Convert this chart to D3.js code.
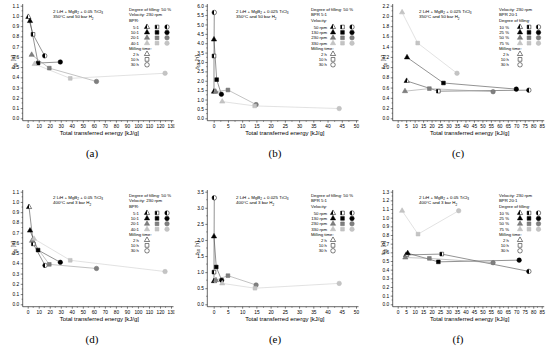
<!DOCTYPE html>
<meta charset="utf-8">
<style>
  body { margin: 0; background: #fff; }
  svg { display: block; font-family: "Liberation Sans", Arial, sans-serif; }
</style>
<svg width="550" height="356"></svg>
<script src="https://d3js.org/d3.v7.min.js"></script>
<script>

// Legend row labels
var bprLabels = ["5:1", "10:1", "20:1", "40:1"],
    velocityLabels = ["50 rpm", "130 rpm", "230 rpm", "330 rpm"],
    fillingLabels = ["10 %", "25 %", "50 %", "75 %"],
    millingLabels = ["2 h", "10 h", "30 h"];

// Every row is one series; columns are milling time 2 h, 10 h, 30 h
// (a) 350°C / 50 bar, 0.05 TiCl3, series = BPR
var aEnergy = [[0.6, 4.8, 15.4], [2.1, 9.4, 29.6], [3.6, 19.6, 62.4], [6.3, 38.6, 124.6]],
    aTime   = [[0.99, 0.82, 0.61], [0.95, 0.54, 0.55], [0.62, 0.49, 0.36], [0.53, 0.39, 0.44]];
// (b) 350°C / 50 bar, 0.025 TiCl3, series = velocity
var bEnergy = [[0.1, 0.1, 0.2], [0.1, 1.05, 2.7], [0.7, 5.0, 14.9], [3.0, 14.4, 44.1]],
    bTime   = [[1.42, 3.32, 5.64], [4.2, 2.06, 1.28], [1.42, 1.51, 0.73], [0.89, 0.66, 0.52]];
// (c) 350°C / 50 bar, 0.025 TiCl3, series = degree of filling
var cEnergy = [[5.3, 24, 77.4], [5.5, 27, 70], [4.3, 18.7, 56.3], [2.6, 11.8, 35]],
    cTime   = [[0.73, 0.53, 0.55], [1.19, 0.69, 0.57], [0.53, 0.58, 0.52], [2.07, 1.47, 0.88]];
// (d) 400°C / 3 bar, 0.05 TiCl3, series = BPR
var dEnergy = [[1.2, 5.1, 15.7], [2.1, 9.4, 29.6], [3.9, 19.6, 62.4], [5.7, 38.6, 124.6]],
    dTime   = [[0.95, 0.59, 0.38], [0.72, 0.53, 0.41], [0.62, 0.39, 0.35], [0.64, 0.43, 0.32]];
// (e) 400°C / 3 bar, 0.025 TiCl3, series = velocity
var eEnergy = [[0.1, 0.1, 0.2], [0.1, 0.9, 2.8], [0.8, 5.0, 14.9], [3.0, 14.5, 44.1]],
    eTime   = [[0.72, 1.0, 3.31], [2.11, 1.16, 0.75], [0.75, 0.89, 0.60], [0.65, 0.50, 0.65]];
// (f) 400°C / 3 bar, 0.05 TiCl3, series = degree of filling
var fEnergy = [[5, 26, 77.4], [5.9, 24, 71.7], [4.5, 18.7, 56.3], [2.6, 12, 36]],
    fTime   = [[0.57, 0.58, 0.38], [0.59, 0.49, 0.51], [0.54, 0.53, 0.48], [1.08, 0.81, 1.08]];

// Axis tick ranges: [max, step]
var xTickSpec = [[130, 10], [50, 5], [85, 5], [130, 10], [50, 5], [85, 5]],
    yTickSpec = [[1.1, 0.1], [6, 0.5], [2.2, 0.2], [1.1, 0.1], [3.5, 0.5], [1.3, 0.1]];

var captions = ["(a)", "(b)", "(c)", "(d)", "(e)", "(f)"],
    tiAmount = ["0.05", "0.025", "0.025", "0.05", "0.025", "0.05"],
    conditions = [["350°C and 50 bar H", "2"], ["400°C and 3 bar H", "2"]],
    legendHeads = [
      ["Degree of filling: 50 %", "Velocity: 230 rpm", "BPR:"],
      ["Degree of filling: 50 %", "BPR 5:1", "Velocity:"],
      ["Velocity: 230 rpm", "BPR 20:1", "Degree of filling:"]
    ],
    legendRows = [bprLabels, velocityLabels, fillingLabels];

var energies = [aEnergy, bEnergy, cEnergy, dEnergy, eEnergy, fEnergy],
    times = [aTime, bTime, cTime, dTime, eTime, fTime];

// Layout of the three columns (pixels, relative to each panel)
var colX = [0, 183, 366],
    rowY = [0, 186],
    zeroX = [27.7, 30.7, 31.7],
    endX = [171, 173, 175.7],
    axisX = [22.7, 24.3, 26.7],
    clipW = [174.5, 180, 184],
    legX = [129, 128, 133],
    legLabelRight = [139, 144, 143],
    legMarkX = [[147, 157, 167], [150, 159.5, 169], [154, 163, 172.5]];

var fills = ["url(#half)", "#000", "#7f7f7f", "#c4c4c4"],
    strokes = ["#000", "#000", "#6a6a6a", "#b8b8b8"],
    lineColors = ["#4a4a4a", "#4a4a4a", "#9a9a9a", "#cfcfcf"],
    shapes = [d3.symbolTriangle, d3.symbolSquare, d3.symbolCircle],
    shapeSize = [12, 14, 16];

var svg = d3.select("svg");

var defs = svg.append("defs");
var grad = defs.append("linearGradient").attr("id", "half");
grad.append("stop").attr("offset", 0.5).attr("stop-color", "#000");
grad.append("stop").attr("offset", 0.5).attr("stop-color", "#fff");

// Text with subscript pieces: parts = [[text, isSub], ...]
function richText(sel, parts, size) {
  parts.forEach(function(p, i) {
    var t = sel.append("tspan").text(p[0]);
    if (p[1]) t.attr("font-size", size * 0.7).attr("dy", size * 0.3);
    else if (i > 0 && parts[i - 1][1]) t.attr("dy", -size * 0.3);
  });
  return sel;
}

function marker(g, shape, x, y, fill, stroke) {
  g.append("path")
      .attr("transform", "translate(" + x + "," + y + ")")
      .attr("d", d3.symbol().type(shapes[shape]).size(shapeSize[shape])())
      .attr("fill", fill)
      .attr("stroke", stroke)
      .attr("stroke-width", 0.5);
}

for (var p = 0; p < 6; p++) {
  var col = p % 3, row = Math.floor(p / 3);

  defs.append("clipPath").attr("id", "clip" + p)
    .append("rect").attr("x", 0).attr("y", 0).attr("width", clipW[col]).attr("height", 178);

  var g = svg.append("g")
      .attr("transform", "translate(" + colX[col] + "," + rowY[row] + ")")
      .attr("clip-path", "url(#clip" + p + ")");

  var xMax = xTickSpec[p][0], xStep = xTickSpec[p][1],
      yMax = yTickSpec[p][0], yStep = yTickSpec[p][1];

  var x = d3.scaleLinear().domain([0, xMax]).range([zeroX[col], endX[col]]);
  var y = d3.scaleLinear().domain([0, yMax]).range([118.3, 5.7]);

  var xTicks = d3.range(0, xMax + xStep / 2, xStep),
      yTicks = d3.range(0, yMax + yStep / 2, yStep);

  // Axes
  var xAxis = g.append("g")
      .attr("transform", "translate(0,120.7)")
      .call(d3.axisBottom(x).tickValues(xTicks).tickSize(2).tickPadding(1.5).tickFormat(d3.format("d")));
  xAxis.append("g").selectAll("line")
      .data(xTicks.slice(0, -1).map(function(d) { return d + xStep / 2; }))
    .enter().append("line")
      .attr("x1", x).attr("x2", x).attr("y1", 0).attr("y2", 1.2)
      .attr("stroke", "#000").attr("stroke-width", 0.4);

  var yAxis = g.append("g")
      .attr("transform", "translate(" + axisX[col] + ",0)")
      .call(d3.axisLeft(y).tickValues(yTicks).tickSize(2).tickPadding(1.5).tickFormat(d3.format(".1f")));
  yAxis.append("g").selectAll("line")
      .data(yTicks.slice(0, -1).map(function(d) { return d + yStep / 2; }))
    .enter().append("line")
      .attr("y1", y).attr("y2", y).attr("x1", 0).attr("x2", -1.2)
      .attr("stroke", "#000").attr("stroke-width", 0.4);

  [xAxis, yAxis].forEach(function(a) {
    a.select(".domain").remove();
    a.selectAll(".tick line").attr("stroke-width", 0.5);
    a.selectAll(".tick text").attr("font-size", 4.8).attr("font-family", "Liberation Sans, Arial, sans-serif");
  });
  g.append("line").attr("x1", axisX[col]).attr("x2", endX[col] + 2.5).attr("y1", 120.7).attr("y2", 120.7)
      .attr("stroke", "#000").attr("stroke-width", 0.6);
  g.append("line").attr("x1", axisX[col]).attr("x2", axisX[col]).attr("y1", 120.7).attr("y2", 4)
      .attr("stroke", "#000").attr("stroke-width", 0.6);

  // Axis titles
  g.append("text")
      .attr("x", (zeroX[col] + endX[col]) / 2).attr("y", 135)
      .attr("text-anchor", "middle").attr("font-size", 6)
      .text("Total transferred energy [kJ/g]");
  richText(g.append("text")
      .attr("transform", "translate(" + (axisX[col] - 7.5 - (col === 1 ? 1 : 0)) + ",62) rotate(-90)")
      .attr("text-anchor", "middle").attr("font-size", 5.6),
      [["t", false], ["50", true], [" [h]", false]], 5.6);

  // Composition and conditions
  richText(g.append("text").attr("x", 53).attr("y", 12.5).attr("font-size", 4.4),
      [["2 LiH + MgB", false], ["2", true], [" + " + tiAmount[p] + " TiCl", false], ["3", true]], 4.4);
  richText(g.append("text").attr("x", 53).attr("y", 18.3).attr("font-size", 4.4),
      [[conditions[row][0], false], [conditions[row][1], true]], 4.4);

  // Series lines and markers
  var E = energies[p], T = times[p];
  var line = d3.line().x(function(d) { return x(d[0]); }).y(function(d) { return y(d[1]); });
  E.forEach(function(es, s) {
    g.append("path")
        .datum(es.map(function(e, k) { return [e, T[s][k]]; }))
        .attr("fill", "none")
        .attr("stroke", lineColors[s])
        .attr("stroke-width", 0.6)
        .attr("d", line);
  });
  E.forEach(function(es, s) {
    es.forEach(function(e, k) {
      marker(g, k, x(e), y(T[s][k]), fills[s], strokes[s]);
    });
  });

  // Legend
  var lg = g.append("g").attr("font-size", 4.3);
  legendHeads[col].forEach(function(t, i) {
    lg.append("text").attr("x", legX[col]).attr("y", 10.8 + i * 5.4).text(t);
  });
  legendRows[col].forEach(function(t, i) {
    var yy = 27 + i * 5.4;
    lg.append("text").attr("x", legLabelRight[col]).attr("y", yy + 1.5).attr("text-anchor", "end").text(t);
    for (var k = 0; k < 3; k++) marker(lg, k, legMarkX[col][k], yy, fills[i], strokes[i]);
  });
  lg.append("text").attr("x", legX[col]).attr("y", 27 + 4 * 5.4 + 1.5).text("Milling time:");
  millingLabels.forEach(function(t, i) {
    var yy = 27 + (5 + i) * 5.4;
    lg.append("text").attr("x", legLabelRight[col]).attr("y", yy + 1.5).attr("text-anchor", "end").text(t);
    marker(lg, i, legMarkX[col][0], yy, "none", "#000");
  });

  // Caption
  svg.append("text")
      .attr("x", colX[col] + 92).attr("y", rowY[row] + 157)
      .attr("text-anchor", "middle")
      .attr("font-family", "Liberation Serif, Times New Roman, serif")
      .attr("font-size", 11)
      .text(captions[p]);
}

</script>
